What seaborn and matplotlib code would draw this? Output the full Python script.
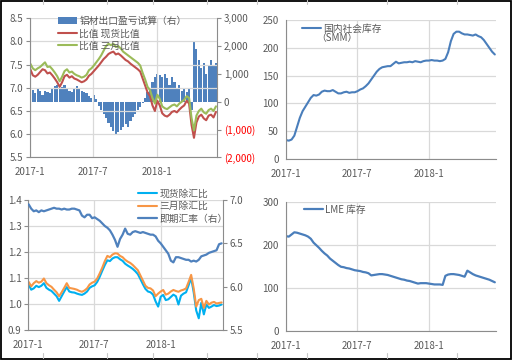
"""
Aluminium export ratios, inventories and FX - four Excel-style panels
"""

import numpy as np
import pandas as pd
import seaborn as sns
import matplotlib.pyplot as plt
from matplotlib.patches import Rectangle
from matplotlib.lines import Line2D

# weekly samples, 2017-01-02 .. 2018-06-18
dates = pd.date_range("2017-01-02", periods=77, freq="7D")

export_profit = [350, 420, 300, 450, 380, 250, 400, 350, 300, 450, 550, 600, 500, 520, 600, 450,
                 400, 350, 450, 550, 500, 400, 350, 300, 200, 150, 250, 100, -150, -300, -450, -600,
                 -750, -900, -1050, -1150, -1100, -1000, -900, -800, -900, -700, -550, -450, -300, -200,
                 -50, 150, 350, 500, 700, 900, 1000, 950, 900, 1000, 850, 600, 900, 700, 500, 600,
                 400, 500, 350, 450, -300, 2200, 1900, 1500, 1200, 1400, 1000, 1300, 1500, 1300, 1400]
spot_ratio = [7.40, 7.27, 7.24, 7.28, 7.34, 7.40, 7.38, 7.31, 7.33, 7.27, 7.20, 7.12, 7.02, 7.12, 7.25, 7.28,
              7.22, 7.25, 7.20, 7.18, 7.15, 7.12, 7.14, 7.18, 7.26, 7.30, 7.36, 7.42, 7.48, 7.55, 7.62, 7.67,
              7.73, 7.76, 7.78, 7.72, 7.74, 7.70, 7.65, 7.60, 7.57, 7.52, 7.48, 7.44, 7.40, 7.35, 7.20, 7.05,
              6.90, 6.82, 6.62, 6.50, 6.72, 6.62, 6.45, 6.40, 6.38, 6.42, 6.48, 6.50, 6.47, 6.53, 6.58, 6.62,
              6.72, 6.66, 6.20, 5.92, 6.25, 6.38, 6.42, 6.34, 6.30, 6.40, 6.42, 6.36, 6.48]
three_month_ratio = [7.52, 7.42, 7.38, 7.42, 7.45, 7.50, 7.55, 7.45, 7.46, 7.40, 7.33, 7.25, 7.14, 7.24, 7.36, 7.40,
                     7.33, 7.35, 7.30, 7.27, 7.25, 7.22, 7.24, 7.28, 7.38, 7.42, 7.48, 7.55, 7.62, 7.70, 7.80, 7.90,
                     7.95, 7.92, 7.95, 7.88, 7.90, 7.85, 7.78, 7.74, 7.70, 7.66, 7.62, 7.58, 7.54, 7.48, 7.32, 7.18,
                     7.02, 6.95, 6.78, 6.66, 6.85, 6.76, 6.60, 6.56, 6.54, 6.58, 6.62, 6.64, 6.60, 6.66, 6.70, 6.74,
                     6.82, 6.78, 6.35, 6.08, 6.40, 6.50, 6.55, 6.47, 6.44, 6.52, 6.55, 6.50, 6.60]

smm_stock = [34, 33, 35, 42, 58, 74, 86, 94, 102, 110, 115, 114, 116, 121, 123, 122,
             122, 124, 121, 118, 118, 120, 121, 119, 120, 120, 122, 125, 127, 131, 136, 143,
             150, 157, 162, 165, 166, 167, 167, 171, 175, 172, 173, 174, 174, 175, 174, 176,
             175, 174, 176, 177, 177, 178, 177, 177, 176, 177, 180, 192, 212, 225, 229, 229,
             226, 224, 224, 223, 222, 224, 221, 219, 214, 207, 200, 193, 188]

spot_fx = [1.075, 1.055, 1.060, 1.070, 1.065, 1.070, 1.080, 1.062, 1.055, 1.050, 1.040, 1.030, 1.012, 1.030,
           1.048, 1.065, 1.048, 1.045, 1.044, 1.040, 1.037, 1.035, 1.040, 1.048, 1.062, 1.068, 1.072, 1.085,
           1.105, 1.128, 1.150, 1.168, 1.165, 1.175, 1.180, 1.180, 1.172, 1.166, 1.155, 1.148, 1.142, 1.135,
           1.126, 1.115, 1.096, 1.076, 1.058, 1.048, 1.045, 1.036, 1.010, 0.990, 1.028, 1.035, 1.015, 1.018,
           1.027, 1.036, 1.030, 0.998, 1.032, 1.040, 1.045, 1.072, 1.100, 1.045, 0.975, 0.945, 1.005, 0.960,
           0.998, 0.985, 0.990, 0.996, 0.992, 0.994, 0.998]
three_month_fx = [1.085, 1.068, 1.080, 1.088, 1.082, 1.086, 1.098, 1.080, 1.072, 1.066, 1.055, 1.045, 1.030, 1.045,
                  1.062, 1.080, 1.062, 1.060, 1.058, 1.055, 1.050, 1.047, 1.052, 1.060, 1.075, 1.082, 1.086, 1.098,
                  1.118, 1.140, 1.165, 1.185, 1.180, 1.190, 1.195, 1.194, 1.185, 1.180, 1.170, 1.163, 1.158, 1.150,
                  1.140, 1.130, 1.110, 1.090, 1.070, 1.062, 1.060, 1.052, 1.030, 1.040, 1.048, 1.054, 1.036, 1.040,
                  1.048, 1.054, 1.050, 1.047, 1.052, 1.055, 1.060, 1.085, 1.112, 1.060, 0.990, 1.015, 1.020, 0.985,
                  1.012, 0.998, 1.005, 1.008, 1.002, 1.004, 1.006]
spot_rate = [6.95, 6.90, 6.87, 6.88, 6.86, 6.88, 6.87, 6.88, 6.89, 6.90, 6.91, 6.90, 6.90, 6.89, 6.90, 6.89,
             6.89, 6.90, 6.90, 6.89, 6.88, 6.82, 6.80, 6.83, 6.83, 6.79, 6.80, 6.78, 6.76, 6.73, 6.70, 6.68,
             6.65, 6.60, 6.54, 6.46, 6.55, 6.60, 6.67, 6.61, 6.60, 6.63, 6.64, 6.63, 6.62, 6.63, 6.62, 6.61,
             6.60, 6.60, 6.58, 6.53, 6.50, 6.46, 6.42, 6.38, 6.30, 6.28, 6.34, 6.34, 6.33, 6.32, 6.31, 6.31,
             6.29, 6.30, 6.29, 6.31, 6.35, 6.36, 6.37, 6.39, 6.40, 6.41, 6.42, 6.49, 6.50]

lme_stock = [220, 219, 224, 229, 228, 226, 224, 222, 219, 214, 205, 199, 193, 186, 180, 175,
             168, 163, 158, 153, 149, 148, 146, 145, 143, 141, 140, 139, 137, 136, 134, 129,
             130, 131, 132, 132, 131, 130, 128, 126, 124, 122, 120, 119, 117, 116, 114, 112,
             110, 111, 111, 111, 110, 109, 108, 108, 108, 107, 128, 131, 132, 132, 131, 130,
             128, 126, 140, 136, 132, 129, 127, 125, 123, 121, 119, 116, 113]

x_ticks = ["2017-01-01", "2017-07-01", "2018-01-01"]
x_tick_labels = ["2017-1", "2017-7", "2018-1"]

BLUE = "#4F81BD"
LINE_BLUE = "#4A7EBB"
RED = "#C0504D"
GREEN = "#9BBB59"
CYAN = "#00B0F0"
ORANGE = "#F79646"
TEXT = "#595959"
SPINE = "#8C8C8C"
GRID = "#D9D9D9"

sns.set_style("white")
plt.rcParams["font.family"] = ["Noto Sans CJK SC", "DejaVu Sans"]
plt.rcParams["font.size"] = 7

fig = plt.figure(figsize=(5.13, 3.62), dpi=100)

LEG = dict(bbox_transform=fig.transFigure, frameon=False, fontsize=7, borderpad=0,
           handlelength=2.0, handletextpad=0.2, labelspacing=0.25, labelcolor=TEXT, loc="upper left")


def px(l, t, r, b):
    """pixel box -> figure fraction rect"""
    return [l / 513, 1 - b / 362, (r - l) / 513, (b - t) / 362]


def style_axes(ax, hgrid=False):
    ax.set_xlim(pd.Timestamp("2017-01-01"), pd.Timestamp("2018-06-21"))
    ax.set_xticks(pd.to_datetime(x_ticks), x_tick_labels)
    ax.grid(axis="x", color=GRID, lw=0.9)
    ax.grid(axis="y", visible=hgrid, color=GRID, lw=0.9)
    ax.set_axisbelow(True)
    for side in ["top", "right"]:
        ax.spines[side].set_visible(False)
    for side in ["left", "bottom"]:
        ax.spines[side].set_color(SPINE)
        ax.spines[side].set_linewidth(0.8)
    ax.tick_params(axis="y", direction="out", length=3, width=0.8, color=SPINE,
                   labelcolor=TEXT, labelsize=7, pad=2)
    ax.tick_params(axis="x", length=0, labelcolor=TEXT, labelsize=7, pad=7)
    ax.set_xlabel("")
    ax.set_ylabel("")


def style_right(ax2):
    for side in ["top", "left", "bottom"]:
        ax2.spines[side].set_visible(False)
    ax2.spines["right"].set_color(SPINE)
    ax2.spines["right"].set_linewidth(0.8)
    ax2.tick_params(axis="y", direction="out", length=3, width=0.8, color=SPINE,
                    labelcolor=TEXT, labelsize=7, pad=2)
    ax2.set_ylabel("")


# --- top left: export profit bars + ratios
ax = fig.add_axes(px(30, 18.3, 217, 157.3))
axb = ax.twinx()
axb.bar(dates, export_profit, width=6.2, color=BLUE, linewidth=0, label="铝材出口盈亏试算（右）")
ax.set_zorder(axb.get_zorder() + 1)
ax.patch.set_visible(False)
sns.lineplot(x=dates, y=spot_ratio, ax=ax, color=RED, lw=1.5, label="比值 现货比值", legend=False)
sns.lineplot(x=dates, y=three_month_ratio, ax=ax, color=GREEN, lw=1.5, label="比值 三月比值", legend=False)
ax.set_ylim(5.5, 8.5)
ax.set_yticks(np.arange(5.5, 8.51, 0.5))
style_axes(ax)
axb.set_ylim(-2000, 3000)
axb.set_yticks([3000, 2000, 1000, 0, -1000, -2000],
               ["3,000", "2,000", "1,000", "0", "(1,000)", "(2,000)"])
style_right(axb)
for lab in axb.get_yticklabels():
    if lab.get_text().startswith("("):
        lab.set_color("#FF0000")
h1, l1 = axb.get_legend_handles_labels()
h2, l2 = ax.get_legend_handles_labels()
ax.legend(h1 + h2, l1 + l2, bbox_to_anchor=(53 / 513, 1 - 11 / 362), **LEG)

# --- top right: domestic social inventory
ax = fig.add_axes(px(285.7, 20, 496, 159))
sns.lineplot(x=dates, y=smm_stock, ax=ax, color=LINE_BLUE, lw=1.5, label="国内社会库存", legend=False)
ax.set_ylim(0, 250)
ax.set_yticks(range(0, 251, 50))
style_axes(ax, hgrid=True)
ax.legend(bbox_to_anchor=(297 / 513, 1 - 19 / 362), **LEG)
fig.text(316 / 513, 1 - 38 / 362, "（SMM）", fontsize=7, color=TEXT, va="center")

# --- bottom left: ratios over FX + spot rate
ax = fig.add_axes(px(28.3, 200, 222.7, 330))
axr = ax.twinx()
sns.lineplot(x=dates, y=spot_fx, ax=ax, color=CYAN, lw=1.5, label="现货除汇比", legend=False)
sns.lineplot(x=dates, y=three_month_fx, ax=ax, color=ORANGE, lw=1.5, label="三月除汇比", legend=False)
sns.lineplot(x=dates, y=spot_rate, ax=axr, color=BLUE, lw=1.6, label="即期汇率（右）", legend=False)
ax.set_ylim(0.9, 1.4)
ax.set_yticks(np.arange(0.9, 1.41, 0.1))
ax.yaxis.set_major_formatter(plt.FormatStrFormatter("%.1f"))
style_axes(ax)
axr.set_ylim(5.5, 7.0)
axr.set_yticks(np.arange(5.5, 7.01, 0.5))
axr.yaxis.set_major_formatter(plt.FormatStrFormatter("%.1f"))
style_right(axr)
h1, l1 = ax.get_legend_handles_labels()
h2, l2 = axr.get_legend_handles_labels()
axr.legend(h1 + h2, l1 + l2, bbox_to_anchor=(133 / 513, 1 - 184 / 362), **LEG)

# --- bottom right: LME inventory
ax = fig.add_axes(px(285.7, 201.7, 496, 331))
sns.lineplot(x=dates, y=lme_stock, ax=ax, color=LINE_BLUE, lw=1.6, label="LME 库存", legend=False)
ax.set_ylim(0, 300)
ax.set_yticks([0, 100, 200, 300])
style_axes(ax, hgrid=True)
ax.legend(bbox_to_anchor=(299 / 513, 1 - 200 / 362), **LEG)

# sheet frame and cell borders peeking through
fig.add_artist(Rectangle((1 / 513, 1 - 358.5 / 362), 510 / 513, 357.5 / 362,
                         transform=fig.transFigure, fill=False, ec="black", lw=1.3))
for xc in [43, 107, 153, 207, 257, 307, 387, 457]:
    fig.add_artist(Line2D([xc / 513, xc / 513], [1, 1 - 4 / 362],
                          transform=fig.transFigure, color="#C8C8C8", lw=0.8))
    fig.add_artist(Line2D([xc / 513, xc / 513], [1 - 353 / 362, 1 - 358 / 362],
                          transform=fig.transFigure, color="#C8C8C8", lw=0.8))

plt.savefig("out.png", dpi=100)
